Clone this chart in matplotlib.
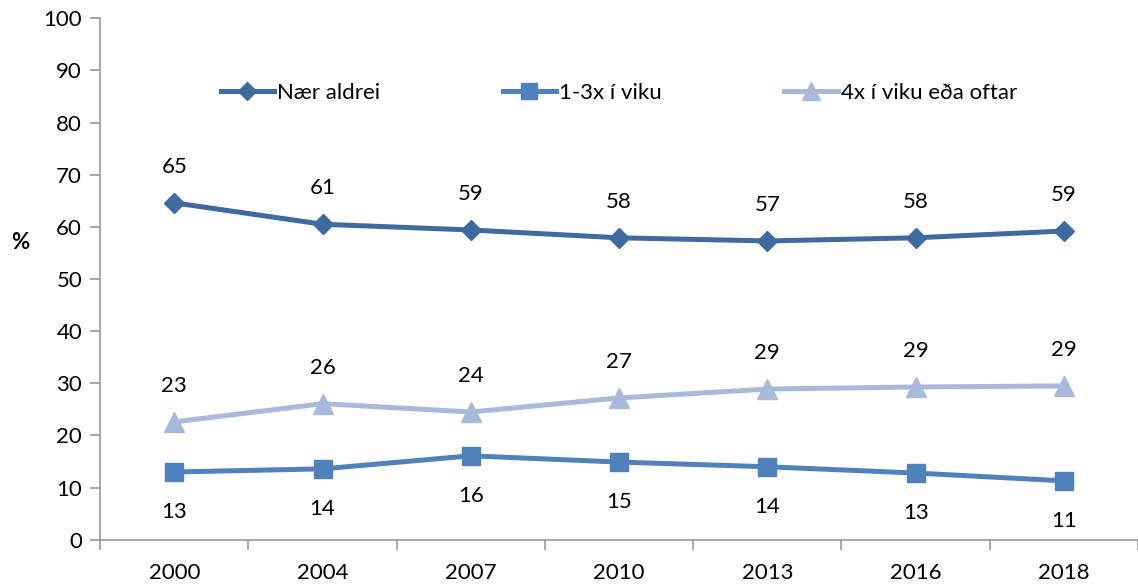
import matplotlib
matplotlib.use('Agg')
import matplotlib.pyplot as plt
import numpy as np

# DATA
years = ["2000", "2004", "2007", "2010", "2013", "2016", "2018"]
naer_aldrei = [64.6, 60.5, 59.4, 57.9, 57.3, 57.9, 59.2]
vika_1_3 = [13.0, 13.6, 16.1, 14.9, 14.0, 12.8, 11.3]
vika_4 = [22.6, 26.1, 24.5, 27.2, 28.9, 29.3, 29.5]
# printed value labels as shown in the chart
naer_aldrei_lbl = ["65", "61", "59", "58", "57", "58", "59"]
vika_1_3_lbl = ["13", "14", "16", "15", "14", "13", "11"]
vika_4_lbl = ["23", "26", "24", "27", "29", "29", "29"]

plt.rcParams['font.family'] = ['Lato', 'DejaVu Sans']

fig = plt.figure(figsize=(11.38, 5.88), dpi=100)
ax = fig.add_axes([0.088, 0.082, 0.912, 0.887])

x = np.arange(len(years))
c_dark = "#3F6A9F"
c_mid = "#4F81BD"
c_light = "#A8BAD9"

ax.plot(x, naer_aldrei, color=c_dark, lw=3.6, marker="D", markersize=10, label="Nær aldrei")
ax.plot(x, vika_1_3, color=c_mid, lw=3.6, marker="s", markersize=13, label="1-3x í viku")
ax.plot(x, vika_4, color=c_light, lw=3.6, marker="^", markersize=14, label="4x í viku eða oftar")

# value labels
for xi, v, t in zip(x, naer_aldrei, naer_aldrei_lbl):
    ax.annotate(t, (xi, v), xytext=(0, 26), textcoords="offset points",
                ha="center", va="center", fontsize=16)
for xi, v, t in zip(x, vika_4, vika_4_lbl):
    ax.annotate(t, (xi, v), xytext=(0, 26), textcoords="offset points",
                ha="center", va="center", fontsize=16)
for xi, v, t in zip(x, vika_1_3, vika_1_3_lbl):
    ax.annotate(t, (xi, v), xytext=(0, -29), textcoords="offset points",
                ha="center", va="center", fontsize=16)

ax.set_xlim(-0.5, len(years) - 0.5)
ax.set_ylim(0, 100)
ax.set_yticks(range(0, 101, 10))
ax.set_xticks(x)
ax.set_xticklabels(years)
ax.set_xticks(np.arange(-0.5, len(years)), minor=True)
ax.tick_params(axis="x", which="major", length=0, pad=17, labelsize=16)
ax.tick_params(axis="x", which="minor", length=7, color="#999999", width=1.2)
ax.tick_params(axis="y", length=7, color="#999999", width=1.2, labelsize=16, pad=6)

for side in ["top", "right"]:
    ax.spines[side].set_visible(False)
for side in ["left", "bottom"]:
    ax.spines[side].set_color("#999999")
    ax.spines[side].set_linewidth(1.2)

ax.set_ylabel("%", rotation=0, fontsize=16, fontweight="bold", va="center")
ax.yaxis.set_label_coords(-0.077, 0.57)

ax.legend(loc="upper center", bbox_to_anchor=(0.5, 0.915), ncol=3, frameon=False,
          fontsize=16, handlelength=2.4, handletextpad=0.15, columnspacing=5.5,
          markerscale=0.9)

fig.savefig("out.png", dpi=100)
